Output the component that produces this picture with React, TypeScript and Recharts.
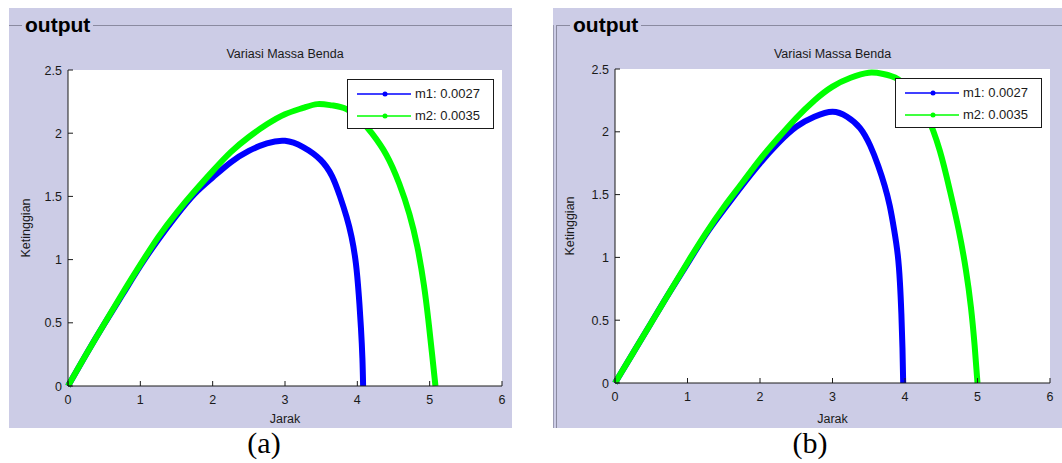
import { LineChart, Line, XAxis, YAxis, Legend, CartesianGrid } from "recharts";

const X_TICKS = [0, 1, 2, 3, 4, 5, 6];
const Y_TICKS = [0, 0.5, 1, 1.5, 2, 2.5];
const SERIES_NAMES = ["m1: 0.0027", "m2: 0.0035"];
const SERIES_COLORS = ["#0000ff", "#00ff00"];

// panel (a)
const jarakA1 = [0, 0.25, 0.5, 0.75, 1, 1.25, 1.5, 1.75, 2, 2.25, 2.5, 2.75, 3, 3.25, 3.49, 3.65, 3.76, 3.85, 3.92, 3.98, 4.02, 4.05, 4.07, 4.08];
const tinggiA1 = [0, 0.25, 0.49, 0.72, 0.95, 1.16, 1.35, 1.52, 1.65, 1.77, 1.86, 1.92, 1.94, 1.89, 1.79, 1.66, 1.5, 1.34, 1.18, 0.97, 0.72, 0.46, 0.22, 0];
const jarakA2 = [0, 0.25, 0.5, 0.75, 1, 1.25, 1.5, 1.75, 2, 2.25, 2.5, 2.75, 3, 3.25, 3.45, 3.65, 3.85, 4.05, 4.2, 4.4, 4.58, 4.72, 4.83, 4.92, 4.98, 5.03, 5.08];
const tinggiA2 = [0, 0.25, 0.49, 0.73, 0.96, 1.18, 1.37, 1.54, 1.7, 1.85, 1.97, 2.07, 2.15, 2.2, 2.23, 2.22, 2.19, 2.1, 2.0, 1.83, 1.6, 1.36, 1.1, 0.8, 0.53, 0.27, 0];

// panel (b)
const jarakB1 = [0, 0.25, 0.5, 0.75, 1, 1.25, 1.5, 1.75, 2, 2.25, 2.5, 2.75, 3, 3.2, 3.38, 3.52, 3.63, 3.72, 3.79, 3.85, 3.9, 3.93, 3.95, 3.965, 3.975];
const tinggiB1 = [0, 0.24, 0.48, 0.72, 0.95, 1.18, 1.38, 1.57, 1.75, 1.91, 2.04, 2.12, 2.16, 2.12, 2.03, 1.89, 1.73, 1.57, 1.41, 1.22, 1.02, 0.8, 0.55, 0.28, 0];
const jarakB2 = [0, 0.25, 0.5, 0.75, 1, 1.25, 1.5, 1.75, 2, 2.25, 2.5, 2.75, 3, 3.25, 3.5, 3.7, 3.9, 4.1, 4.3, 4.48, 4.62, 4.74, 4.84, 4.91, 4.96, 5.0];
const tinggiB2 = [0, 0.24, 0.48, 0.72, 0.96, 1.19, 1.4, 1.59, 1.78, 1.95, 2.11, 2.25, 2.36, 2.43, 2.47, 2.46, 2.42, 2.31, 2.13, 1.85, 1.53, 1.22, 0.9, 0.6, 0.3, 0];

const toPoints = (xs: number[], ys: number[]) => xs.map((x, i) => ({ x, y: ys[i] }));

const FONT = "'Liberation Sans', Arial, sans-serif";
const LAVENDER = "#cccce6";
const INK = "#1a1a1a";
const TICK_LEN = 5;

const BottomTick = ({ x, y, payload }: any) => (
  <g>
    <line x1={x} y1={y} x2={x} y2={y - TICK_LEN} stroke={INK} />
    <text x={x} y={y + 18} textAnchor="middle" fontFamily={FONT} fontSize={12.5} fill={INK}>{payload.value}</text>
  </g>
);
const LeftTick = ({ x, y, payload }: any) => (
  <g>
    <line x1={x} y1={y} x2={x + TICK_LEN} y2={y} stroke={INK} />
    <text x={x - 6} y={y + 4.5} textAnchor="end" fontFamily={FONT} fontSize={12.5} fill={INK}>{payload.value}</text>
  </g>
);
const TopTick = ({ x, y }: any) => <line x1={x} y1={y} x2={x} y2={y + TICK_LEN} stroke={INK} />;
const RightTick = ({ x, y }: any) => <line x1={x} y1={y} x2={x - TICK_LEN} y2={y} stroke={INK} />;

function LegendBox({ payload }: any) {
  return (
    <div style={{ width: 147, height: 50, boxSizing: "border-box", border: `1px solid ${INK}`, background: "#fff", position: "relative", fontFamily: FONT }}>
      {(payload || []).map((item: any, i: number) => (
        <div key={i} style={{ position: "absolute", left: 0, top: 4 + i * 22, height: 20, width: "100%" }}>
          <svg width={58} height={20} style={{ position: "absolute", left: 9, top: 0 }}>
            <line x1={0} y1={10} x2={54} y2={10} stroke={item.color} strokeWidth={1.5} />
            <circle cx={28} cy={10} r={2.5} fill={item.color} />
          </svg>
          <span style={{ position: "absolute", left: 67, top: 2, fontSize: 13, lineHeight: "16px", color: INK, whiteSpace: "nowrap" }}>{item.value}</span>
        </div>
      ))}
    </div>
  );
}

interface PanelProps {
  box: [number, number, number, number];
  plot: [number, number, number, number];
  titleLeft: number;
  leftRule?: boolean;
  series: { x: number; y: number }[][];
}

function Panel({ box, plot, titleLeft, leftRule, series }: PanelProps) {
  const [bl, bt, br, bb] = box;
  const [pl, pt, pr, pb] = plot;
  const w = br - bl;
  const h = bb - bt;
  const ruleLeft = leftRule ? 3 : 0;
  return (
    <div style={{ position: "absolute", left: bl, top: bt, width: w, height: h, background: LAVENDER }}>
      {leftRule && (
        <>
          <div style={{ position: "absolute", left: 0, top: 17, width: 1, height: h - 17, background: "#9a9ab2" }} />
          <div style={{ position: "absolute", left: 3, top: 17, width: 1, height: h - 17, background: "#8a8aa0" }} />
        </>
      )}
      <div style={{ position: "absolute", left: ruleLeft, top: 17, width: w - ruleLeft, height: 1, background: "#8a8aa0" }} />
      <div style={{ position: "absolute", left: titleLeft - bl - 3, top: 6, padding: "0 3px", background: LAVENDER, fontFamily: FONT, fontWeight: "bold", fontSize: 21, lineHeight: "21px", color: "#000" }}>output</div>
      <div style={{ position: "absolute", left: pl - bl, width: pr - pl, top: 39, textAlign: "center", fontFamily: FONT, fontSize: 12.5, lineHeight: "14px", color: INK }}>Variasi Massa Benda</div>
      <div style={{ position: "absolute", left: 0, top: 0 }}>
        <LineChart width={w} height={h} margin={{ top: pt - bt, right: br - pr, bottom: 0, left: 0 }}>
          <CartesianGrid fill="#fff" horizontal={false} vertical={false} />
          <XAxis type="number" dataKey="x" domain={[0, 6]} ticks={X_TICKS} interval={0} height={bb - pb}
            tickSize={0} tickMargin={0} tick={<BottomTick />} axisLine={{ stroke: INK }}
            label={{ value: "Jarak", position: "insideBottom", offset: 5, fontFamily: FONT, fontSize: 12.5, fill: INK }} />
          <XAxis xAxisId="top" orientation="top" type="number" dataKey="x" domain={[0, 6]} ticks={X_TICKS} interval={0} height={0}
            tickSize={0} tickMargin={0} tick={<TopTick />} axisLine={{ stroke: INK }} />
          <YAxis type="number" domain={[0, 2.5]} ticks={Y_TICKS} interval={0} width={pl - bl}
            tickSize={0} tickMargin={0} tick={<LeftTick />} axisLine={{ stroke: INK }}
            label={{ value: "Ketinggian", angle: -90, position: "insideLeft", offset: 17, fontFamily: FONT, fontSize: 12.5, fill: INK, style: { textAnchor: "middle" } }} />
          <YAxis yAxisId="right" orientation="right" type="number" domain={[0, 2.5]} ticks={Y_TICKS} interval={0} width={0}
            tickSize={0} tickMargin={0} tick={<RightTick />} axisLine={{ stroke: INK }} />
          {series.map((pts, i) => (
            <Line key={i} data={pts} dataKey="y" name={SERIES_NAMES[i]} type="natural" stroke={SERIES_COLORS[i]}
              strokeWidth={6} dot={false} isAnimationActive={false} />
          ))}
          <Legend layout="horizontal" verticalAlign="middle" align="center" content={<LegendBox />}
            wrapperStyle={{ left: pr - 8 - 147 - bl, top: pt + 9 - bt, width: 147 }} />
        </LineChart>
      </div>
    </div>
  );
}

export default function App() {
  return (
    <div style={{ position: "absolute", left: 0, top: 0, width: 1062, height: 463, background: "#fff", overflow: "hidden" }}>
      <Panel box={[9, 8, 512, 428]} plot={[68, 70, 502, 386]} titleLeft={25}
        series={[toPoints(jarakA1, tinggiA1), toPoints(jarakA2, tinggiA2)]} />
      <Panel box={[553, 8, 1062, 428]} plot={[615, 69, 1050, 383]} titleLeft={573} leftRule
        series={[toPoints(jarakB1, tinggiB1), toPoints(jarakB2, tinggiB2)]} />
      <div style={{ position: "absolute", left: 214, width: 100, top: 426, textAlign: "center", fontFamily: "'Liberation Serif', 'Times New Roman', serif", fontSize: 30, lineHeight: "34px", color: "#000" }}>(a)</div>
      <div style={{ position: "absolute", left: 760, width: 100, top: 426, textAlign: "center", fontFamily: "'Liberation Serif', 'Times New Roman', serif", fontSize: 30, lineHeight: "34px", color: "#000" }}>(b)</div>
    </div>
  );
}
